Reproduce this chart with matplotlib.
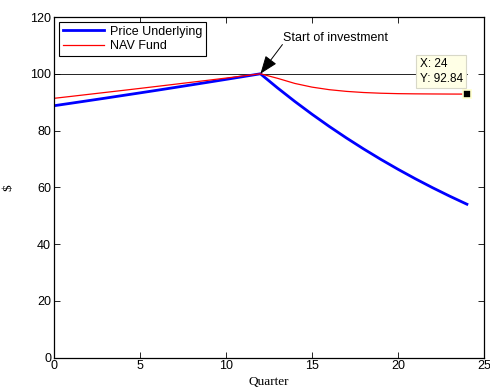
import matplotlib
matplotlib.use("Agg")
import matplotlib.pyplot as plt

# quarters and values
quarters = list(range(25))
price_underlying = [88.74, 89.63, 90.53, 91.43, 92.35, 93.27, 94.20, 95.15, 96.10,
                    97.06, 98.03, 99.01, 100.0, 95.00, 90.25, 85.74, 81.45, 77.38,
                    73.51, 69.83, 66.34, 63.02, 59.87, 56.88, 54.04]
nav_fund = [91.35, 92.04, 92.74, 93.44, 94.14, 94.85, 95.57, 96.29, 97.02, 97.75,
            98.49, 99.25, 100.0, 98.40, 96.60, 95.30, 94.40, 93.80, 93.40, 93.15,
            93.00, 92.93, 92.89, 92.86, 92.84]
start_q = 12
tip_x, tip_y = 24, 92.84

plt.rcParams['font.family'] = ['Liberation Sans', 'DejaVu Sans']
plt.rcParams['font.size'] = 9

fig = plt.figure(figsize=(4.9, 3.87), dpi=100)
ax = fig.add_axes([0.110, 0.076, 0.878, 0.880])

ax.plot([0, 24], [100, 100], color='black', lw=0.6)
ax.plot(quarters, price_underlying, color='blue', lw=2, label='Price Underlying')
ax.plot(quarters, nav_fund, color='red', lw=0.9, label='NAV Fund')

# arrow + label for the start of investment
ax.annotate('', xy=(start_q, 100), xytext=(13.28, 110.3),
            arrowprops=dict(arrowstyle='-|>,head_length=0.8,head_width=0.3',
                            color='black', lw=0.7, mutation_scale=14,
                            shrinkA=0, shrinkB=0))
ax.text(13.3, 112.5, 'Start of investment', ha='left', va='center', fontsize=9)

# data tip
ax.plot([tip_x], [tip_y], marker='s', ms=6, color='black',
        markeredgecolor='#ffffcc', markeredgewidth=1.2, clip_on=False)
ax.text(21.25, 100.8, 'X: %d\nY: %.2f' % (tip_x, tip_y), ha='left', va='center',
        fontsize=8.5, linespacing=1.3,
        bbox=dict(boxstyle='square,pad=0.3', facecolor='#ffffe6',
                  edgecolor='#d8d8c8', lw=0.8))

ax.set_xlim(0, 25)
ax.set_ylim(0, 120)
ax.set_xticks([0, 5, 10, 15, 20, 25])
ax.set_yticks([0, 20, 40, 60, 80, 100, 120])
ax.tick_params(direction='in', length=4, width=0.6, top=True, right=True, pad=2)
for s in ax.spines.values():
    s.set_linewidth(0.9)

ax.set_xlabel('Quarter', family='Liberation Serif', fontsize=9.5, labelpad=2.5)
ax.set_ylabel('$', family='Liberation Serif', fontsize=9.5, labelpad=11)

leg = ax.legend(loc='upper left', fontsize=9, fancybox=False, framealpha=1,
                edgecolor='black', borderaxespad=0.4, handlelength=3.3,
                handletextpad=0.5, borderpad=0.3, labelspacing=0.2)
leg.get_frame().set_linewidth(0.8)

fig.savefig('out.png', dpi=100)
